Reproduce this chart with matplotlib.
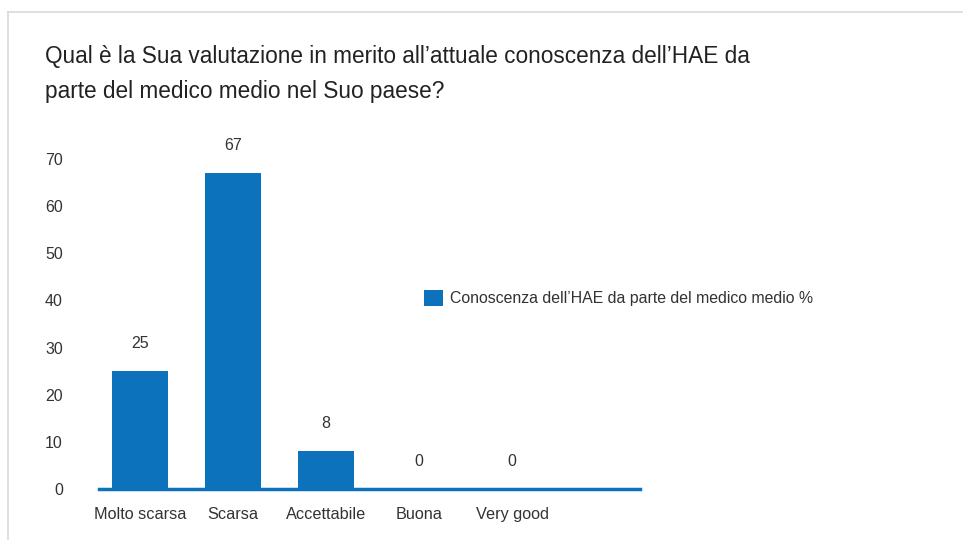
import matplotlib
matplotlib.use("Agg")
import matplotlib.pyplot as plt
from matplotlib.lines import Line2D

categories = ["Molto scarsa", "Scarsa", "Accettabile", "Buona", "Very good"]
values = [25, 67, 8, 0, 0]
series_name = "Conoscenza dell\u2019HAE da parte del medico medio %"
title = ("Qual è la Sua valutazione in merito all\u2019attuale conoscenza dell\u2019HAE da\n"
         "parte del medico medio nel Suo paese?")
yticks = [0, 10, 20, 30, 40, 50, 60, 70]

BLUE = "#0b72bb"
TXT = "#333333"

plt.rcParams['font.family'] = ['Liberation Sans', 'DejaVu Sans']

fig = plt.figure(figsize=(9.63, 5.4), dpi=100)
ax = fig.add_axes([99/963, 51/540, 541/963, 353.7/540])

x = list(range(len(categories)))
bars = ax.bar(x, values, width=0.593, color=BLUE, label=series_name, zorder=2)
for xi, v in zip(x, values):
    ax.annotate(str(v), (xi, v), xytext=(0, 20), textcoords="offset points",
                ha="center", va="center", fontsize=11.5, color=TXT)

ax.set_xlim(-0.44, 5.375)
ax.set_ylim(0, 75)
ax.set_xticks(x)
ax.set_xticklabels(categories, fontsize=11.7, color=TXT)
ax.set_yticks(yticks)
ax.set_yticklabels([str(t) for t in yticks], fontsize=11.5, color=TXT)
ax.tick_params(axis='both', length=0)
ax.tick_params(axis='y', pad=26)
ax.tick_params(axis='x', pad=13)
for s in ["top", "right", "left"]:
    ax.spines[s].set_visible(False)
ax.spines["bottom"].set_color(BLUE)
ax.spines["bottom"].set_linewidth(2.5)
ax.spines["bottom"].set_zorder(3)

fig.text(45/963, 1 - 45/540, title, fontsize=16.3, color="#222222", ha="left", va="top",
         linespacing=1.68)

fig.legend(handles=[bars], labels=[series_name], loc="center left",
           bbox_to_anchor=(424/963, 1 - 298/540), frameon=False, fontsize=11.4,
           borderpad=0, borderaxespad=0, handlelength=1.2, handleheight=1.2,
           handletextpad=0.42, labelcolor=TXT)

# light frame lines
fig.add_artist(Line2D([8/963, 1], [1 - 12/540, 1 - 12/540], color="#d9d9d9", lw=1.2,
                      transform=fig.transFigure))
fig.add_artist(Line2D([8/963, 8/963], [0, 1 - 12/540], color="#d9d9d9", lw=1.2,
                      transform=fig.transFigure))

fig.savefig("out.png", dpi=100)
